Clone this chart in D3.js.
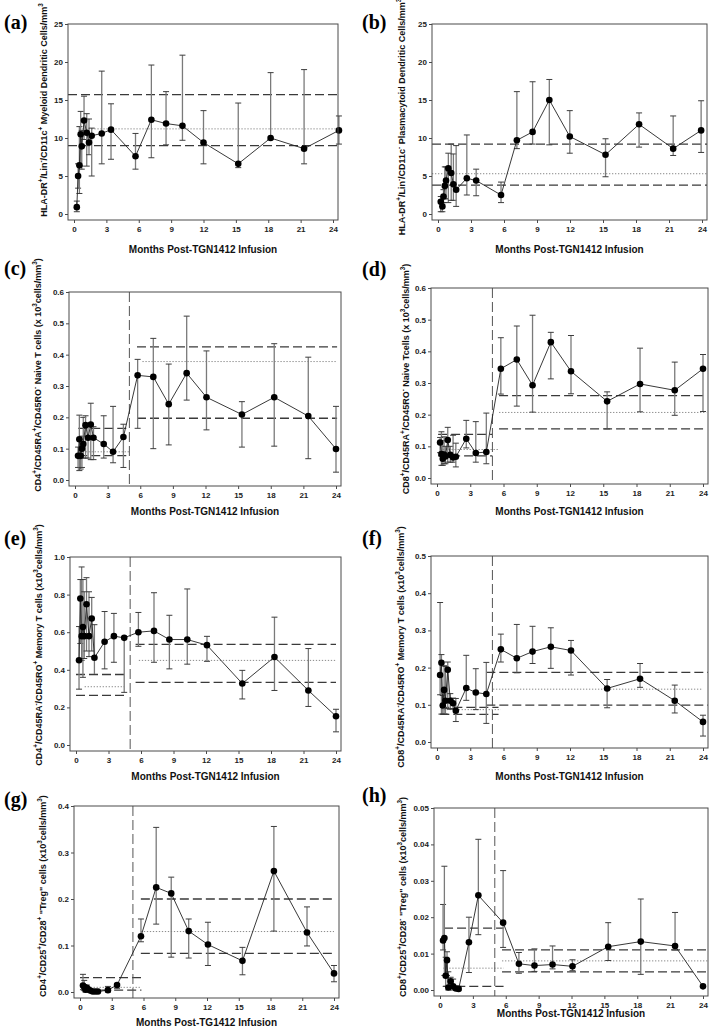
<!DOCTYPE html>
<html><head><meta charset="utf-8">
<script src="https://cdn.jsdelivr.net/npm/d3@7"></script>
<style>body{margin:0;background:#fff}svg{display:block}</style>
</head><body>
<svg id="chart" width="709" height="1029"></svg>
<script>
// ---------- DATA ----------
const monthTicks = [0,3,6,9,12,15,18,21,24];

const monthsA = [0.26,0.38,0.5,0.62,0.72,0.93,1.18,1.39,1.64,2.57,3.43,5.7,7.17,8.53,10.05,12.0,15.22,18.22,21.32,24.55];
const meanA = [0.9,5.0,6.4,10.5,8.9,12.3,10.7,9.4,10.3,10.6,11.1,7.6,12.4,11.9,11.6,9.4,6.6,10.0,8.6,11.0];
const loA   = [0.3,3.4,2.7,6.3,5.9,9.8,6.3,7.8,5.0,6.6,7.2,5.9,7.4,9.1,9.7,6.6,6.1,9.8,6.6,9.2];
const hiA   = [1.7,6.6,11.5,13.5,11.0,15.5,13.2,12.5,11.3,18.8,14.5,10.6,19.6,16.1,20.9,13.6,14.6,18.6,19.0,12.9];
const refsA = [[15.7,'bound',-1,25],[11.2,'mean',0.5,25],[9.0,'bound',-1,25]];

const monthsB = [0.25,0.4,0.5,0.62,0.73,0.94,1.2,1.4,1.65,2.62,3.47,5.73,7.17,8.6,10.12,11.98,15.23,18.28,21.38,23.92];
const meanB = [1.6,1.0,2.3,3.7,4.4,6.0,5.4,3.9,3.2,4.7,4.4,2.5,9.7,10.8,15.0,10.2,7.8,11.8,8.6,11.0];
const loB   = [0.3,0.3,1.5,2.0,2.0,1.5,1.8,1.8,1.0,2.5,2.4,1.5,8.6,9.2,9.1,8.0,4.9,8.8,7.7,8.1];
const hiB   = [2.3,1.5,3.2,6.2,6.2,8.0,9.2,7.9,9.0,10.4,5.9,4.2,16.1,17.4,17.7,13.6,9.9,13.3,12.9,14.9];
const refsB = [[9.2,'bound',-1,25],[5.3,'mean',-1,25],[3.8,'bound',-1,25]];

const monthsT = [0.28,0.4,0.52,0.64,0.76,0.97,1.2,1.45,1.7,2.64,3.5,4.45,5.76,7.2,8.62,10.27,12.09,15.35,18.32,21.45,24.0];

const meanC = [0.077,0.13,0.077,0.10,0.115,0.175,0.135,0.177,0.135,0.115,0.09,0.137,0.334,0.329,0.242,0.341,0.264,0.209,0.264,0.204,0.099];
const loC   = [0.04,0.03,0.035,0.04,0.07,0.07,0.07,0.065,0.065,0.07,0.055,0.04,0.165,0.10,0.112,0.255,0.16,0.105,0.108,0.068,0.025];
const hiC   = [0.105,0.207,0.13,0.14,0.20,0.205,0.17,0.245,0.17,0.205,0.235,0.178,0.385,0.452,0.37,0.523,0.412,0.25,0.435,0.392,0.235];
const refsC = [[0.165,'bound',0.3,5],[0.09,'mean',0.7,5],[0.078,'bound',0.3,5],[0.425,'bound',5.7,24.1],[0.378,'mean',6.2,24.1],[0.197,'bound',5.7,24.1]];

const meanD = [0.112,0.076,0.061,0.074,0.068,0.12,0.073,0.065,0.067,0.124,0.079,0.082,0.345,0.374,0.293,0.429,0.337,0.242,0.297,0.277,0.345];
const loD   = [0.08,0.04,0.04,0.045,0.045,0.05,0.05,0.05,0.035,0.095,0.05,0.045,0.265,0.227,0.208,0.313,0.266,0.155,0.209,0.198,0.21];
const hiD   = [0.128,0.146,0.118,0.13,0.10,0.16,0.10,0.135,0.11,0.182,0.178,0.205,0.443,0.48,0.514,0.46,0.45,0.272,0.41,0.366,0.39];
const refsD = [[0.138,'bound',0.1,5],[0.09,'mean',0.5,5.6],[0.07,'bound',0.1,5],[0.26,'bound',5.6,24.3],[0.207,'mean',5.6,24.3],[0.155,'bound',5.6,24.3]];

const meanE = [0.451,0.779,0.579,0.628,0.579,0.749,0.579,0.673,0.464,0.549,0.579,0.57,0.6,0.607,0.561,0.561,0.531,0.327,0.468,0.29,0.153];
const loE   = [0.297,0.54,0.45,0.36,0.46,0.50,0.47,0.50,0.375,0.405,0.44,0.28,0.525,0.44,0.405,0.43,0.445,0.245,0.29,0.205,0.07];
const hiE   = [0.63,0.88,0.947,0.88,0.815,0.89,0.815,0.785,0.64,0.71,0.70,0.575,0.705,0.81,0.69,0.83,0.578,0.397,0.68,0.513,0.19];
const refsE = [[0.375,'bound',0,4.45],[0.31,'mean',0.8,4.45],[0.264,'bound',0,4.45],[0.535,'bound',5.5,24],[0.45,'mean',5.8,24],[0.333,'bound',5.5,24]];

const meanF = [0.18,0.213,0.098,0.14,0.111,0.194,0.111,0.104,0.084,0.145,0.133,0.129,0.249,0.225,0.243,0.256,0.246,0.144,0.17,0.111,0.054];
const loF   = [0.127,0.075,0.075,0.075,0.075,0.09,0.088,0.09,0.055,0.112,0.087,0.05,0.215,0.186,0.211,0.198,0.18,0.092,0.147,0.078,0.016];
const hiF   = [0.375,0.235,0.125,0.205,0.203,0.215,0.13,0.118,0.117,0.233,0.197,0.214,0.29,0.316,0.311,0.307,0.273,0.168,0.211,0.153,0.072];
const refsF = [[0.093,'bound',0.3,5.55],[0.087,'mean',0.6,5.75],[0.074,'bound',0.3,5.55],[0.187,'bound',4.45,24.5],[0.142,'mean',5.05,24],[0.099,'bound',4.45,24.5]];

const meanG = [0.014,0.011,0.005,0.009,0.006,0.003,0.001,0.001,0.001,0.004,0.015,null,0.12,0.225,0.212,0.131,0.102,0.067,0.26,0.128,0.04];
const loG   = [0.005,0.003,0.0,0.002,0.0,0.0,0.0,0.0,0.0,0.0,0.008,null,0.108,0.146,0.075,0.073,0.057,0.037,0.131,0.099,0.022];
const hiG   = [0.038,0.025,0.012,0.015,0.01,0.006,0.003,0.003,0.002,0.012,0.018,null,0.157,0.354,0.247,0.157,0.15,0.096,0.356,0.183,0.057];
const refsG = [[0.031,'bound',0,5.8],[0.01,'mean',1,5.8],[0.004,'bound',2,5.8],[0.2,'bound',5.75,24],[0.13,'mean',5.75,24],[0.083,'bound',5.75,24]];

const meanH = [0.0136,0.0143,0.0039,0.0082,0.0007,0.0024,0.001,0.0004,0.0003,0.0131,0.026,null,0.0185,0.0072,0.0067,0.007,0.0065,0.0119,0.0133,0.0121,0.001];
const loH   = [0.011,0.004,0.001,0.004,0.0,0.0005,0.0,0.0,0.0,0.0048,0.0152,null,0.0117,0.0046,0.0051,0.0058,0.0053,0.0081,0.0043,0.011,0.0007];
const hiH   = [0.0235,0.034,0.009,0.0105,0.005,0.0035,0.003,0.001,0.001,0.02,0.0414,null,0.0328,0.0103,0.0113,0.0121,0.0083,0.0185,0.025,0.0213,0.0013];
const refsH = [[0.017,'bound',0.37,5.8],[0.006,'mean',0.3,5.8],[0.001,'bound',0.3,5.8],[0.011,'bound',5.66,24.5],[0.008,'mean',5.66,24.5],[0.005,'bound',5.66,24.5]];

const infusionMonth = 5;

const yLabels = {
  a: "HLA-DR{+}/Lin{-}/CD11c{+} Myeloid Dendritic Cells/mm{3}",
  b: "HLA-DR{+}/Lin{-}/CD11c{-} Plasmacytoid Dendritic Cells/mm{3}",
  c: "CD4{+}/CD45RA{+}/CD45RO{-} Naive T cells (x 10{3}cells/mm{3})",
  d: "CD8{+}/CD45RA{+}/CD45RO{-} Naive Tcells (x 10{3}cells/mm{3})",
  e: "CD4{+}/CD45RA{-}/CD45RO{+} Memory T cells (x10{3}cells/mm{3})",
  f: "CD8{+}/CD45RA{-}/CD45RO{+} Memory T cells (x10{3}cells/mm{3})",
  g: "CD4{+}/CD25{+}/CD28{+} \"Treg\" cells (x10{3}cells/mm{3})",
  h: "CD8{+}/CD25{+}/CD28{-} \"Treg\" cells (x10{3}cells/mm{3})"
};
const xTitles = {
  a:"Months Post-TGN1412 Infusion", b:"Months Post-TGN1412 Infusion",
  c:"Months Post-TGN1412 Infusion", d:"Months Post-TGN1412 Infusion",
  e:"Months Post-TGN1412 Infusion", f:"Months Post-TGN1412 Infusion",
  g:"Months Post-TG1412 Infusion",  h:"Months Post-TGN1412 Infusion"
};

// ---------- LAYOUT ----------
const panels = [
 {id:'a', m:monthsA, mean:meanA, lo:loA, hi:hiA, refs:refsA, ymax:25, yt:[0,5,10,15,20,25], fmt:d3.format('d'), vline:false,
  fr:{l:68,r:338,t:24,b:220}, letter:[4,29], yl:[47,110], xt:253},
 {id:'b', m:monthsB, mean:meanB, lo:loB, hi:hiB, refs:refsB, ymax:25, yt:[0,5,10,15,20,25], fmt:d3.format('d'), vline:false,
  fr:{l:432,r:707,t:24,b:220}, letter:[362,29], yl:[405,117], xt:253},
 {id:'c', m:monthsT, mean:meanC, lo:loC, hi:hiC, refs:refsC, ymax:0.6, yt:[0,.1,.2,.3,.4,.5,.6], fmt:d3.format('.1f'), vline:true,
  fr:{l:69,r:341,t:292,b:486}, letter:[4,275], yl:[41,375], xt:515},
 {id:'d', m:monthsT, mean:meanD, lo:loD, hi:hiD, refs:refsD, ymax:0.6, yt:[0,.1,.2,.3,.4,.5,.6], fmt:d3.format('.1f'), vline:true,
  fr:{l:431,r:708,t:288,b:484}, letter:[362,276], yl:[409,379], xt:515},
 {id:'e', m:monthsT, mean:meanE, lo:loE, hi:hiE, refs:refsE, ymax:1.0, yt:[0,.2,.4,.6,.8,1.0], fmt:d3.format('.1f'), vline:true,
  fr:{l:70,r:341,t:557,b:751}, letter:[4,545], yl:[42,645], xt:780},
 {id:'f', m:monthsT, mean:meanF, lo:loF, hi:hiF, refs:refsF, ymax:0.5, yt:[0,.1,.2,.3,.4,.5], fmt:d3.format('.1f'), vline:true,
  fr:{l:431,r:708,t:556,b:748}, letter:[362,545], yl:[404,647], xt:780},
 {id:'g', m:monthsT, mean:meanG, lo:loG, hi:hiG, refs:refsG, ymax:0.4, yt:[0,.1,.2,.3,.4], fmt:d3.format('.1f'), vline:true,
  fr:{l:74,r:339,t:806,b:998}, letter:[4,806], yl:[46,896], xt:1026},
 {id:'h', m:monthsT, mean:meanH, lo:loH, hi:hiH, refs:refsH, ymax:0.05, yt:[0,.01,.02,.03,.04,.05], fmt:d3.format('.2f'), vline:true,
  fr:{l:434,r:708,t:808,b:996}, letter:[362,802], yl:[406,897], xt:1017}
];

const svg = d3.select('#chart');
const SANS = "'Liberation Sans', Arial, sans-serif";

function richText(sel, str, fs) {
  const parts = str.split(/(\{[^}]*\})/).filter(s => s.length);
  let prevSup = false;
  parts.forEach(p => {
    const sup = p.startsWith('{');
    const t = sel.append('tspan').text(sup ? p.slice(1,-1) : p);
    if (sup) { t.attr('font-size', fs*0.7).attr('dy', prevSup ? 0 : -fs*0.4); }
    else if (prevSup) { t.attr('dy', fs*0.4); }
    prevSup = sup;
  });
}

panels.forEach(P => {
  const f = P.fr;
  const g = svg.append('g');
  const x = d3.scaleLinear().domain([0,24]).range([f.l+6, f.r-5]);
  const y = d3.scaleLinear().domain([0,P.ymax]).range([f.b-6, f.t]);
  const cx = v => Math.max(f.l, Math.min(f.r, x(v)));

  // reference lines
  P.refs.forEach(r => {
    g.append('line')
      .attr('x1', cx(r[2])).attr('x2', cx(r[3]))
      .attr('y1', y(r[0])).attr('y2', y(r[0]))
      .attr('stroke', r[1]==='bound' ? '#3a3a3a' : '#8a8a8a')
      .attr('stroke-width', r[1]==='bound' ? 1.3 : 1)
      .attr('stroke-dasharray', r[1]==='bound' ? '9,4' : '1.3,1.7');
  });
  if (P.vline) {
    g.append('line').attr('x1', x(infusionMonth)).attr('x2', x(infusionMonth))
      .attr('y1', f.t).attr('y2', f.b)
      .attr('stroke', '#555').attr('stroke-width', 1).attr('stroke-dasharray', '10,4');
  }

  const pts = P.m.map((m,i) => ({m, v:P.mean[i], lo:P.lo[i], hi:P.hi[i]})).filter(d => d.v != null);

  // error bars
  const eb = g.append('g');
  pts.forEach(d => {
    const X = x(d.m);
    eb.append('line').attr('x1',X).attr('x2',X).attr('y1',y(d.lo)).attr('y2',y(d.hi))
      .attr('stroke','#7a7a7a').attr('stroke-width',1.3);
    [d.lo, d.hi].forEach(v => {
      eb.append('line').attr('x1',X-3).attr('x2',X+3).attr('y1',y(v)).attr('y2',y(v))
        .attr('stroke','#3c3c3c').attr('stroke-width',1);
    });
  });

  // data line
  g.append('path').datum(pts)
    .attr('d', d3.line().x(d => x(d.m)).y(d => y(d.v)))
    .attr('fill','none').attr('stroke','#222').attr('stroke-width',0.9);

  g.selectAll('circle.pt').data(pts).join('circle')
    .attr('cx', d => x(d.m)).attr('cy', d => y(d.v)).attr('r', 3.3).attr('fill', '#000');

  // frame
  g.append('rect').attr('x', f.l).attr('y', f.t).attr('width', f.r-f.l).attr('height', f.b-f.t)
    .attr('fill','none').attr('stroke','#4a4a4a').attr('stroke-width',1);

  // axes
  const ay = g.append('g').attr('transform', `translate(${f.l},0)`)
    .call(d3.axisLeft(y).tickValues(P.yt).tickFormat(P.fmt).tickSize(3).tickPadding(2));
  const ax = g.append('g').attr('transform', `translate(0,${f.b})`)
    .call(d3.axisBottom(x).tickValues(monthTicks).tickFormat(d3.format('d')).tickSize(3).tickPadding(3));
  [ay, ax].forEach(a => {
    a.select('.domain').remove();
    a.selectAll('line').attr('stroke','#4a4a4a');
    a.selectAll('text').attr('font-family', SANS).attr('font-weight','bold').attr('font-size', 8).attr('fill','#222');
  });

  // x title
  g.append('text').attr('x', (f.l+f.r)/2).attr('y', P.xt).attr('text-anchor','middle')
    .attr('font-family', SANS).attr('font-weight','bold').attr('font-size', 10).attr('fill','#111')
    .text(xTitles[P.id]);

  // y label
  const yl = g.append('text').attr('transform', `translate(${P.yl[0]},${P.yl[1]}) rotate(-90)`)
    .attr('text-anchor','middle').attr('font-family', SANS).attr('font-weight','bold')
    .attr('font-size', 9).attr('fill','#111');
  richText(yl, yLabels[P.id], 9);

  // panel letter
  g.append('text').attr('x', P.letter[0]).attr('y', P.letter[1])
    .attr('font-family', "'Liberation Serif', 'Times New Roman', serif").attr('font-weight','bold')
    .attr('font-size', 20).attr('fill','#000').text(`(${P.id})`);
});
</script>
</body></html>
